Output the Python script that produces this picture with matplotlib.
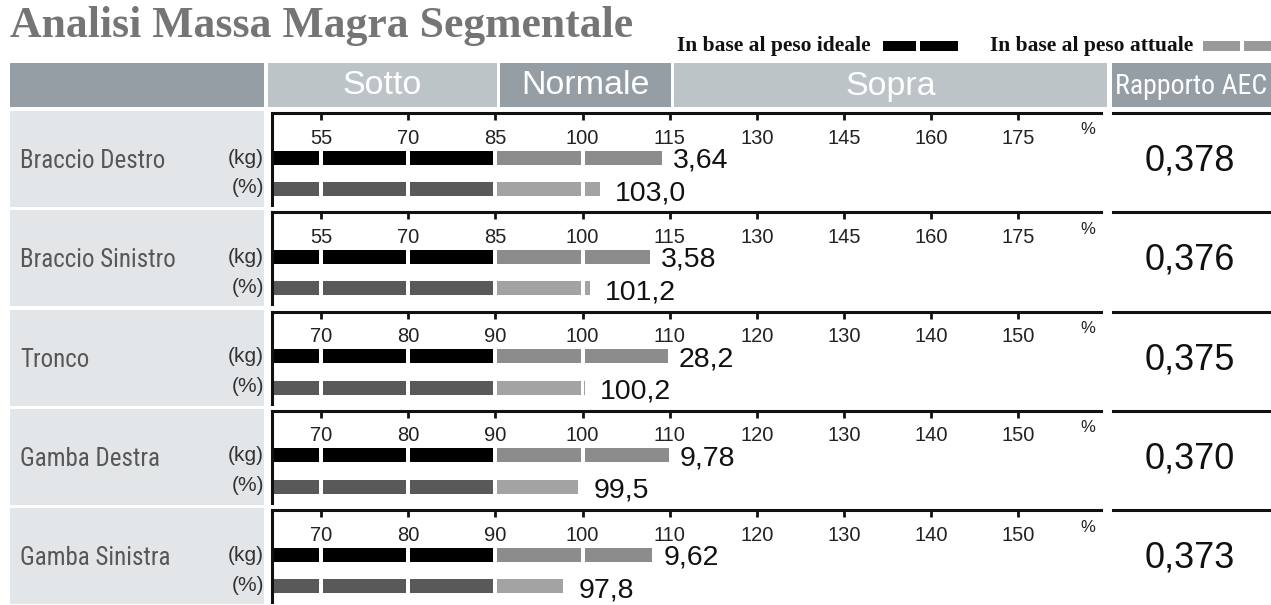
import os
import matplotlib
matplotlib.use("Agg")
import matplotlib.pyplot as plt
from matplotlib.patches import Rectangle
from matplotlib.lines import Line2D
from matplotlib import font_manager
from matplotlib.font_manager import FontProperties

# ---- data -------------------------------------------------------------
segments = ["Braccio Destro", "Braccio Sinistro", "Tronco", "Gamba Destra", "Gamba Sinistra"]
lean_kg = [3.64, 3.58, 28.2, 9.78, 9.62]            # lean mass, kg
ideal_pct = [113.6, 111.6, 109.8, 109.9, 108.0]      # % of ideal-weight reference
actual_pct = [103.0, 101.2, 100.2, 99.5, 97.8]       # % of actual-weight reference
aec_ratio = [0.378, 0.376, 0.375, 0.370, 0.373]
arm_ticks = [55, 70, 85, 100, 115, 130, 145, 160, 175]
body_ticks = [70, 80, 90, 100, 110, 120, 130, 140, 150]
scale_ticks = [arm_ticks, arm_ticks, body_ticks, body_ticks, body_ticks]
normal_low = [85, 85, 90, 90, 90]
header_labels = ["Sotto", "Normale", "Sopra", "Rapporto AEC"]

# ---- figure helpers ---------------------------------------------------
W, H, DPI = 1271, 605, 100
fig = plt.figure(figsize=(W / DPI, H / DPI), dpi=DPI)
fig.patch.set_facecolor("white")


def has_font(name):
    try:
        font_manager.findfont(FontProperties(family=name), fallback_to_default=False)
        return True
    except Exception:
        return False


def narrow_font():
    for fam in ["Liberation Sans Narrow", "Arial Narrow", "Roboto Condensed",
                "Open Sans Condensed", "Noto Sans Condensed"]:
        if has_font(fam):
            return {"family": fam}
    for fam in ["Noto Sans", "Roboto", "Open Sans", "DejaVu Sans"]:
        try:
            path = font_manager.findfont(FontProperties(family=fam, stretch="condensed"),
                                         fallback_to_default=False)
            if "ondensed" in os.path.basename(path):
                return {"family": fam, "fontstretch": "condensed"}
        except Exception:
            pass
    return {"family": "Liberation Sans"}


NARROW = narrow_font()
SANS = ["Liberation Sans", "DejaVu Sans"]
SERIF = ["Liberation Serif", "DejaVu Serif"]


def fit_size(text, font_kw, width_px, max_size):
    """Font size at which `text` spans about width_px pixels."""
    probe = fig.text(0, 0, text, fontsize=20, **font_kw)
    w = probe.get_window_extent(fig.canvas.get_renderer()).width
    probe.remove()
    return min(max_size, 20 * width_px / w)


def fx(x):
    return x / W


def fy(y):
    return 1 - y / H


def box(x0, y0, x1, y1, color):
    fig.add_artist(Rectangle((fx(x0), fy(y1)), fx(x1) - fx(x0), fy(y0) - fy(y1),
                             transform=fig.transFigure, facecolor=color,
                             edgecolor="none", zorder=0))


def ftext(x, y, s, **kw):
    fig.text(fx(x), fy(y), s, **kw)


DARK_HDR = "#959ea5"
LIGHT_HDR = "#bdc4c8"
LABEL_BG = "#e3e6e8"

LABEL_SIZE = fit_size("Braccio Destro", NARROW, 145, 19.5)
AEC_HDR_SIZE = fit_size("Rapporto AEC", NARROW, 152, 21)

# ---- title & legend ---------------------------------------------------
ftext(10, 26, "Analisi Massa Magra Segmentale", family=SERIF, weight="bold",
      fontsize=31.5, color="#757575", ha="left", va="center")
ftext(677, 46, "In base al peso ideale", family=SERIF, weight="bold",
      fontsize=15.5, color="#111111", ha="left", va="center")
ftext(990, 46, "In base al peso attuale", family=SERIF, weight="bold",
      fontsize=15.5, color="#111111", ha="left", va="center")
for x0, x1 in [(883, 916), (920, 958)]:
    box(x0, 41, x1, 51, "#000000")
for x0, x1 in [(1203, 1240), (1244, 1271)]:
    box(x0, 41, x1, 51, "#9a9a9a")

# ---- header band ------------------------------------------------------
HDR_TOP, HDR_BOT = 63, 107
header_blocks = [(10, 264, DARK_HDR), (268, 497, LIGHT_HDR), (500, 671, DARK_HDR),
                 (674, 1107, LIGHT_HDR), (1112, 1271, DARK_HDR)]
for x0, x1, c in header_blocks:
    box(x0, HDR_TOP, x1, HDR_BOT, c)
for (x0, x1, _), lab in zip(header_blocks[1:], header_labels):
    if lab == "Rapporto AEC":
        kw = dict(NARROW, fontsize=AEC_HDR_SIZE)
    else:
        kw = dict(family=SANS, fontsize=24.5)
    ftext((x0 + x1) / 2, (HDR_TOP + HDR_BOT) / 2 + 1, lab, color="white",
          ha="center", va="center", **kw)

# ---- rows -------------------------------------------------------------
AX_L, AX_R = 272, 1101
ROW0, PITCH, AX_H = 113, 99.3, 92
KG_Y, PCT_Y, BAR_H = 44.5, 76, 14
GAP_PX = 2.0

for i, name in enumerate(segments):
    top = ROW0 + PITCH * i
    ticks = scale_ticks[i]
    step = ticks[1] - ticks[0]
    lo = ticks[0] - step * 0.562
    hi = ticks[-1] + step * 0.947
    gap = GAP_PX * (hi - lo) / (AX_R - AX_L)

    # label column
    box(10, top - 2, 264, top + 94, LABEL_BG)
    ftext(20, top + 48, name, fontsize=LABEL_SIZE, color="#575757",
          ha="left", va="center", **NARROW)
    ftext(264, top + 45, "(kg)", family=SANS, fontsize=15, color="#333333",
          ha="right", va="center")
    ftext(264, top + 75, "(%)", family=SANS, fontsize=15, color="#333333",
          ha="right", va="center")

    ax = fig.add_axes([fx(AX_L), fy(top + AX_H), fx(AX_R) - fx(AX_L), AX_H / H])
    ax.set_xlim(lo, hi)
    ax.set_ylim(AX_H, 0)
    ax.patch.set_alpha(0)
    for side in ("right", "bottom"):
        ax.spines[side].set_visible(False)
    for side in ("top", "left"):
        ax.spines[side].set_linewidth(2.2)
        ax.spines[side].set_color("#111111")
    ax.xaxis.set_ticks_position("top")
    ax.set_xticks(ticks)
    ax.tick_params(axis="x", direction="in", length=5, width=2, color="#111111",
                   labeltop=False, labelbottom=False)
    ax.set_yticks([])
    for t in ticks:
        ax.text(t, 25, str(t), ha="center", va="center", family=SANS,
                fontsize=14.5, color="#222222")
    ax.text((1088 - AX_L) / (AX_R - AX_L), 1 - 17 / AX_H, "%", transform=ax.transAxes,
            ha="center", va="center", family=SANS, fontsize=12, color="#222222")

    def seg_bar(value, y, dark, light):
        bounds = [lo] + [t for t in ticks if t < value] + [value]
        for a, b in zip(bounds[:-1], bounds[1:]):
            start = a if a == lo else a + gap
            end = b - gap if b in ticks else b
            color = dark if b <= normal_low[i] else light
            ax.barh(y, end - start, left=start, height=BAR_H, color=color,
                    edgecolor="none")

    seg_bar(ideal_pct[i], KG_Y, "#000000", "#8c8c8c")
    seg_bar(actual_pct[i], PCT_Y, "#595959", "#a3a3a3")

    ax.annotate(f"{lean_kg[i]:.3g}".replace(".", ","), xy=(ideal_pct[i], KG_Y + 3),
                xytext=(8, 0), textcoords="offset points", ha="left", va="center",
                family=SANS, fontsize=20.5, color="#111111")
    ax.annotate(f"{actual_pct[i]:.1f}".replace(".", ","), xy=(actual_pct[i], PCT_Y + 4),
                xytext=(11, 0), textcoords="offset points", ha="left", va="center",
                family=SANS, fontsize=20.5, color="#111111")

    # AEC column
    fig.add_artist(Line2D([fx(1113), fx(1271)], [fy(top), fy(top)],
                          transform=fig.transFigure, color="#111111", lw=2.2))
    ftext(1190, top + 48, f"{aec_ratio[i]:.3f}".replace(".", ","), family=SANS,
          fontsize=26, color="#111111", ha="center", va="center")

fig.savefig("out.png", dpi=DPI)
